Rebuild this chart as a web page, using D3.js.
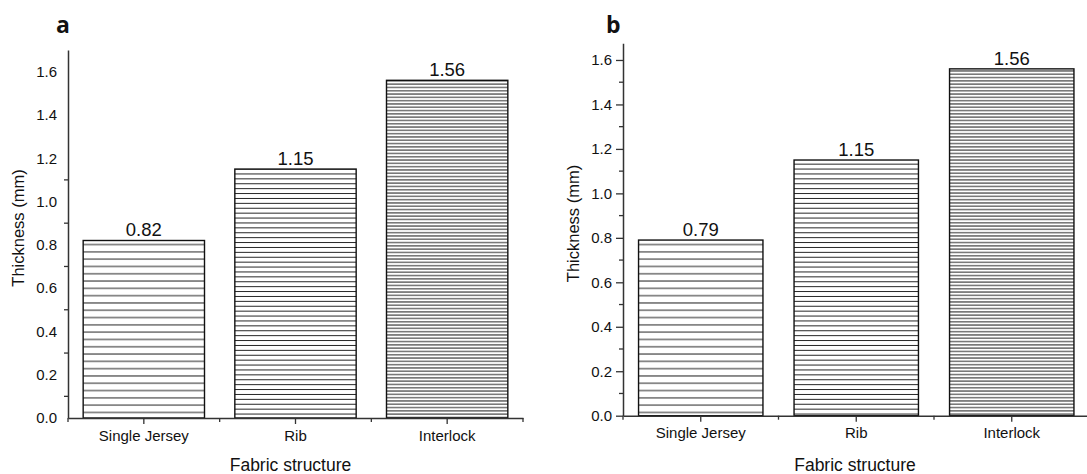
<!DOCTYPE html>
<html>
<head>
<meta charset="utf-8">
<script src="https://cdn.jsdelivr.net/npm/d3@7"></script>
<style>
  body { margin: 0; background: #fff; }
  text { font-family: "Liberation Sans", Arial, sans-serif; fill: #111; }
  .panel-title { font-family: "Open Sans", sans-serif; font-weight: 700; }
</style>
</head>
<body>
<div id="container"></div>
<script>
const WIDTH = 1087;
const HEIGHT = 474;

// data
const categories = ['Single Jersey', 'Rib', 'Interlock'];
const thicknessA = [0.82, 1.15, 1.56];
const thicknessB = [0.79, 1.15, 1.56];
const majorTicks = [0, 0.2, 0.4, 0.6, 0.8, 1.0, 1.2, 1.4, 1.6];
const minorTicksA = [0.1, 0.3, 0.5, 0.7, 0.9, 1.1];
const minorTicksB = [0.1, 0.3, 0.5, 0.7, 0.9, 1.1, 1.3, 1.5];

// hatch spacing per category (px)
const hatchGap = { 'Single Jersey': 7.3, 'Rib': 4.9, 'Interlock': 3.3 };

const svg = d3.select('#container')
              .append('svg')
                .attr('width', WIDTH)
                .attr('height', HEIGHT);

const defs = svg.append('defs');
categories.forEach((c, i) => {
    const gap = hatchGap[c];
    const p = defs.append('pattern')
                  .attr('id', `hatch${i}`)
                  .attr('patternUnits', 'userSpaceOnUse')
                  .attr('width', 10)
                  .attr('height', gap);
    p.append('rect').attr('width', 10).attr('height', gap).attr('fill', '#fff');
    p.append('line')
       .attr('x1', 0).attr('x2', 10)
       .attr('y1', gap / 2).attr('y2', gap / 2)
       .attr('stroke', '#222')
       .attr('stroke-width', 1);
});

const drawPanel = (cfg) => {
    const g = svg.append('g');
    const x = d3.scaleBand().domain(categories).range([cfg.left, cfg.right]).padding(0);
    const y = d3.scaleLinear().domain([0, cfg.ymax]).range([cfg.bottom, cfg.top]);
    const barW = x.bandwidth() * 0.8;

    // bars
    g.selectAll('rect.bar')
     .data(categories.map((c, i) => ({ cat: c, i: i, v: cfg.values[i] })))
     .enter()
     .append('rect')
       .attr('class', 'bar')
       .attr('x', d => x(d.cat) + (x.bandwidth() - barW) / 2)
       .attr('y', d => y(d.v))
       .attr('width', barW)
       .attr('height', d => y(0) - y(d.v))
       .attr('fill', d => `url(#hatch${d.i})`)
       .attr('stroke', '#111')
       .attr('stroke-width', 1.4);

    // value labels
    g.selectAll('text.val')
     .data(categories.map((c, i) => ({ cat: c, v: cfg.values[i] })))
     .enter()
     .append('text')
       .attr('class', 'val')
       .attr('x', d => x(d.cat) + x.bandwidth() / 2)
       .attr('y', d => y(d.v) - 4)
       .attr('text-anchor', 'middle')
       .attr('font-size', 18.5)
       .text(d => d.v.toFixed(2));

    // y axis
    const yAxis = g.append('g').attr('transform', `translate(${cfg.left}, 0)`);
    yAxis.call(d3.axisLeft(y).tickValues(majorTicks)
                  .tickSize(cfg.majorTicks ? 7 : 0)
                  .tickPadding(cfg.majorTicks ? 4 : 11)
                  .tickSizeOuter(0)
                  .tickFormat(d3.format('.1f')));
    yAxis.select('.domain').attr('stroke', '#333').attr('stroke-width', 1.5);
    yAxis.selectAll('.tick line').attr('stroke', '#333').attr('stroke-width', 1.3);
    yAxis.selectAll('.tick text').attr('font-size', 15).attr('fill', '#111')
         .attr('font-family', '"Liberation Sans", Arial, sans-serif');
    yAxis.selectAll('line.minor')
         .data(cfg.minor)
         .enter()
         .append('line')
           .attr('class', 'minor')
           .attr('x1', -4).attr('x2', 0)
           .attr('y1', d => y(d)).attr('y2', d => y(d))
           .attr('stroke', '#333')
           .attr('stroke-width', 1.3);

    // x axis
    const xAxis = g.append('g').attr('transform', `translate(0, ${cfg.bottom})`);
    xAxis.call(d3.axisBottom(x).tickSize(6).tickPadding(6).tickSizeOuter(0));
    xAxis.select('.domain').attr('stroke', '#333').attr('stroke-width', 1.5);
    xAxis.selectAll('.tick line').attr('stroke', '#333').attr('stroke-width', 1.3);
    xAxis.selectAll('.tick text').attr('font-size', 15).attr('fill', '#111')
         .attr('font-family', '"Liberation Sans", Arial, sans-serif');
    const bounds = [...categories.map(c => x(c)), cfg.right];
    xAxis.selectAll('line.minor')
         .data(bounds)
         .enter()
         .append('line')
           .attr('class', 'minor')
           .attr('x1', d => d).attr('x2', d => d)
           .attr('y1', 0).attr('y2', 4)
           .attr('stroke', '#333')
           .attr('stroke-width', 1.3);

    // axis titles
    g.append('text')
       .attr('x', (cfg.left + Math.min(cfg.right, WIDTH)) / 2 + cfg.xLabelShift)
       .attr('y', 471)
       .attr('text-anchor', 'middle')
       .attr('font-size', 17.5)
       .text('Fabric structure');
    g.append('text')
       .attr('transform', `translate(${cfg.yLabelX}, ${(cfg.top + cfg.bottom) / 2 - 6}) rotate(-90)`)
       .attr('text-anchor', 'middle')
       .attr('font-size', 16.5)
       .text('Thickness (mm)');

    // panel letter
    g.append('text')
       .attr('class', 'panel-title')
       .attr('x', cfg.titleX)
       .attr('y', 33)
       .attr('font-size', 23)
       .text(cfg.title);
};

drawPanel({ title: 'a', titleX: 56, values: thicknessA, left: 68, right: 523, top: 50, bottom: 418,
            ymax: 1.7, majorTicks: false, minor: minorTicksA, yLabelX: 24, xLabelShift: -5 });
drawPanel({ title: 'b', titleX: 606, values: thicknessB, left: 623, right: 1089.5, top: 43.3, bottom: 415.7,
            ymax: 1.675, majorTicks: true, minor: minorTicksB, yLabelX: 579, xLabelShift: 0 });
</script>
</body>
</html>
